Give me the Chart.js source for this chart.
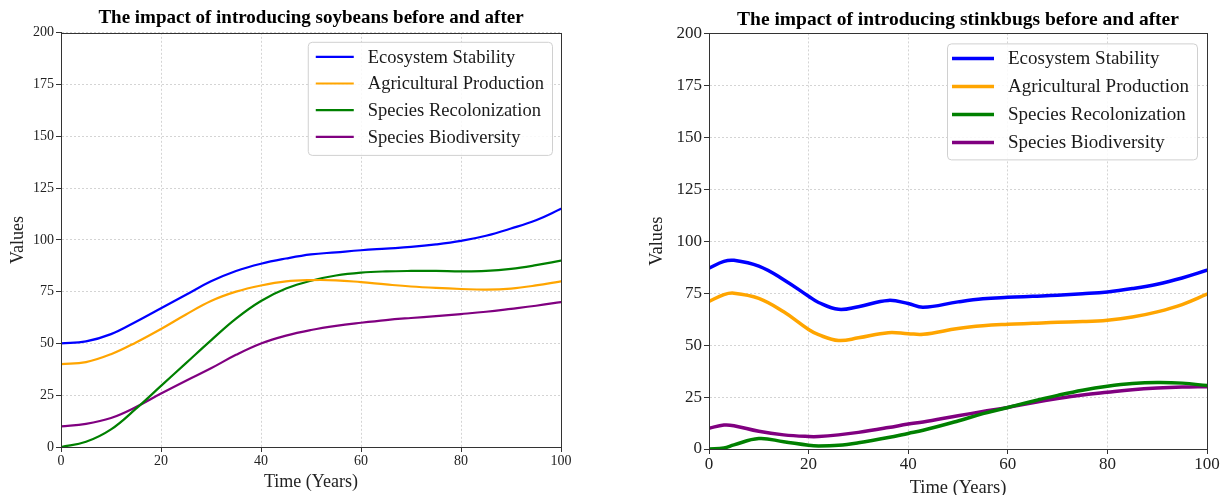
<!DOCTYPE html>
<html>
<head>
<meta charset="utf-8">
<title>Soybeans and stinkbugs</title>
<script src="https://cdn.jsdelivr.net/npm/chart.js@4.4.1/dist/chart.umd.min.js"></script>
<style>
html, body { margin: 0; padding: 0; background: #fff; overflow: hidden; }
body { width: 1222px; height: 495px; position: relative; }
#wrapLeft { position: absolute; left: 0; top: 0; width: 600px; height: 495px; }
#wrapRight { position: absolute; left: 640px; top: 0; width: 582px; height: 505px; }
</style>
</head>
<body>
<div id="wrapLeft"><canvas id="soyChart"></canvas></div>
<div id="wrapRight"><canvas id="bugChart"></canvas></div>
<script>
// series names + colours (same for both panels)
const seriesNames = ['Ecosystem Stability', 'Agricultural Production', 'Species Recolonization', 'Species Biodiversity'];
const seriesColors = ['#0000ff', '#ffa500', '#008000', '#800080'];

// left panel: soybeans
const soyYears = [0, 5, 10, 15, 20, 25, 30, 35, 40, 45, 50, 55, 60, 65, 70, 75, 80, 85, 90, 95, 100];
const soyEcosystem = [50, 51, 54.5, 60.5, 67, 73.5, 80, 85, 88.5, 91, 93, 94, 95, 95.8, 96.6, 97.8, 99.5, 102, 105.5, 109.5, 115];
const soyAgri = [40, 41, 44.8, 50.5, 57, 64, 70.5, 75, 78, 80, 80.6, 80.5, 79.6, 78.5, 77.5, 76.8, 76.3, 76, 76.5, 78, 80];
const soyRecol = [0, 2.5, 8.5, 18.5, 29.5, 40.5, 51.5, 62, 70.5, 76.5, 80.3, 82.8, 84.2, 84.8, 85, 85, 84.8, 85, 86, 87.8, 90];
const soyBio = [10, 11.2, 14, 19.3, 25.8, 32, 38, 44.5, 50, 53.8, 56.5, 58.5, 60, 61.3, 62.3, 63.2, 64.2, 65.3, 66.7, 68.2, 70];

// right panel: stinkbugs
const bugYears = [0, 3, 5, 10, 15, 20, 22, 26, 30, 36, 40, 43, 50, 55, 60, 65, 70, 75, 80, 85, 90, 95, 100];
const bugEcosystem = [87, 90.3, 90.8, 88, 81.5, 73.5, 70.5, 67.2, 68.5, 71.5, 70, 68.2, 70.8, 72.3, 73, 73.5, 74, 74.7, 75.6, 77.2, 79.3, 82.3, 86];
const bugAgri = [71, 74.3, 75, 72.5, 66, 57.5, 55, 52.2, 53.5, 56, 55.5, 55.2, 58, 59.3, 60, 60.5, 61, 61.3, 62, 63.5, 66, 69.5, 74.5];
const bugRecol = [0, 0.5, 2, 5, 3.5, 1.8, 1.5, 1.8, 3, 5.5, 7.5, 9, 13.5, 17, 20, 23, 25.8, 28.3, 30.2, 31.5, 32, 31.7, 30.5];
const bugBio = [10, 11.5, 11.2, 8.5, 6.8, 6, 6, 6.8, 8, 10.3, 12, 13, 16, 18, 20, 22.3, 24.3, 26, 27.3, 28.5, 29.3, 29.8, 30];

const yTicks = [0, 25, 50, 75, 100, 125, 150, 175, 200];
const xTicks = [0, 20, 40, 60, 80, 100];

const serif = '"Liberation Serif", "Times New Roman", serif';

// frame on all four sides + matplotlib-like legend box inside the plot
const boxLegend = {
    id: 'boxLegend',
    afterDatasetsDraw(chart, args, opts) {
        const ctx = chart.ctx;
        const area = chart.chartArea;
        ctx.save();
        ctx.strokeStyle = '#333';
        ctx.lineWidth = 1;
        ctx.strokeRect(Math.round(area.left) + 0.5, Math.round(area.top) + 0.5,
            Math.round(area.right - area.left), Math.round(area.bottom - area.top));

        const sets = chart.data.datasets;
        ctx.font = opts.fontSize + 'px ' + serif;
        const widest = Math.max(...sets.map(d => ctx.measureText(d.label).width));
        const boxW = opts.textStart + widest + opts.padR;
        const boxH = opts.firstRow + (sets.length - 1) * opts.rowH + opts.lastPad;
        const x0 = area.right - opts.offR - boxW;
        const y0 = area.top + opts.offT;

        ctx.beginPath();
        ctx.roundRect(x0 + 0.5, y0 + 0.5, boxW, boxH, 4);
        ctx.fillStyle = 'rgba(255,255,255,0.85)';
        ctx.fill();
        ctx.strokeStyle = '#d0d0d0';
        ctx.stroke();

        sets.forEach((d, i) => {
            const y = y0 + opts.firstRow + i * opts.rowH;
            ctx.beginPath();
            ctx.strokeStyle = d.borderColor;
            ctx.lineWidth = d.borderWidth;
            ctx.moveTo(x0 + opts.lineStart, y);
            ctx.lineTo(x0 + opts.lineStart + opts.lineLen, y);
            ctx.stroke();
            ctx.fillStyle = '#1a1a1a';
            ctx.textBaseline = 'middle';
            ctx.textAlign = 'left';
            ctx.fillText(d.label, x0 + opts.textStart, y + 1);
        });
        ctx.restore();
    }
};

function makeSets(years, lists, width) {
    return lists.map((vals, i) => ({
        label: seriesNames[i],
        data: years.map((x, j) => ({ x: x, y: vals[j] })),
        borderColor: seriesColors[i],
        backgroundColor: seriesColors[i],
        borderWidth: width,
        pointRadius: 0,
        tension: 0.4,
        borderCapStyle: 'round',
        borderJoinStyle: 'round',
        fill: false
    }));
}

function makeOptions(cfg) {
    return {
        responsive: true,
        maintainAspectRatio: false,
        animation: false,
        layout: { padding: { left: 0, right: cfg.padRight, top: 0, bottom: 0 } },
        plugins: {
            legend: { display: false },
            tooltip: { enabled: false },
            title: {
                display: true,
                text: cfg.title,
                fullSize: false,
                color: '#000',
                font: { family: serif, size: cfg.titleSize, weight: 'bold' },
                padding: { top: cfg.titleTop, bottom: cfg.titleBottom }
            },
            boxLegend: cfg.legend
        },
        scales: {
            x: {
                type: 'linear',
                min: 0, max: 100,
                afterFit: s => { s.height = cfg.xHeight; },
                afterBuildTicks: s => { s.ticks = xTicks.map(v => ({ value: v })); },
                ticks: { color: '#222', padding: cfg.xTickPad, font: { family: serif, size: cfg.tickSize } },
                grid: { color: '#d4d4d4', lineWidth: 1, tickLength: 5, tickColor: '#333', tickWidth: 1 },
                border: { display: true, color: '#333', width: 1, dash: [2, 2] },
                title: {
                    display: true, text: 'Time (Years)', color: '#222',
                    font: { family: serif, size: cfg.axisSize },
                    padding: { top: 0, bottom: cfg.xTitleBottom }
                }
            },
            y: {
                min: 0, max: 200,
                afterFit: s => { s.width = cfg.yWidth; },
                afterBuildTicks: s => { s.ticks = yTicks.map(v => ({ value: v })); },
                ticks: { color: '#222', padding: 2, font: { family: serif, size: cfg.tickSize } },
                grid: { color: '#d4d4d4', lineWidth: 1, tickLength: 5, tickColor: '#333', tickWidth: 1 },
                border: { display: true, color: '#333', width: 1, dash: [2, 2] },
                title: {
                    display: true, text: 'Values', color: '#222',
                    font: { family: serif, size: cfg.axisSize },
                    padding: { top: cfg.yTitleTop, bottom: 0 }
                }
            }
        }
    };
}

new Chart(document.getElementById('soyChart').getContext('2d'), {
    type: 'line',
    data: { datasets: makeSets(soyYears, [soyEcosystem, soyAgri, soyRecol, soyBio], 2.2) },
    options: makeOptions({
        title: 'The impact of introducing soybeans before and after',
        padRight: 39, titleSize: 19, titleTop: 7, titleBottom: 3,
        xHeight: 48, yWidth: 61, tickSize: 14, axisSize: 18,
        xTickPad: 1, xTitleBottom: 2, yTitleTop: 7,
        legend: { fontSize: 18.5, offR: 9, offT: 9, firstRow: 15, rowH: 26.7, lastPad: 18,
                  lineStart: 8, lineLen: 38, textStart: 60, padR: 8 }
    }),
    plugins: [boxLegend]
});

new Chart(document.getElementById('bugChart').getContext('2d'), {
    type: 'line',
    data: { datasets: makeSets(bugYears, [bugEcosystem, bugAgri, bugRecol, bugBio], 3.5) },
    options: makeOptions({
        title: 'The impact of introducing stinkbugs before and after',
        padRight: 15, titleSize: 19.5, titleTop: 8, titleBottom: 2,
        xHeight: 56, yWidth: 69, tickSize: 17, axisSize: 18.5,
        xTickPad: 0, xTitleBottom: 6, yTitleTop: 6,
        legend: { fontSize: 19, offR: 10, offT: 10, firstRow: 15, rowH: 28, lastPad: 17,
                  lineStart: 5, lineLen: 42, textStart: 61, padR: 8 }
    }),
    plugins: [boxLegend]
});
</script>
</body>
</html>
